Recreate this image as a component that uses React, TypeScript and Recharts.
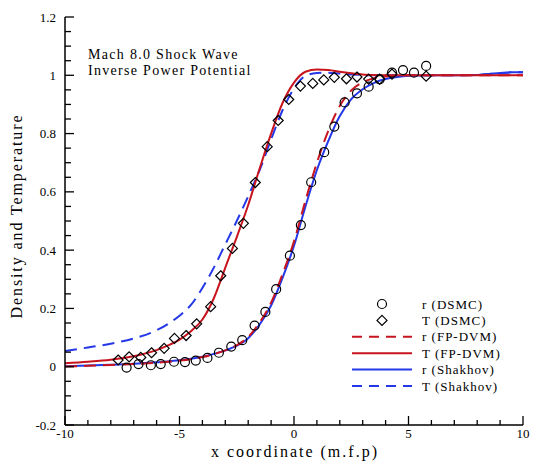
import { ComposedChart, Line, Scatter, XAxis, YAxis } from 'recharts'

// x grid shared by the four model curves
const lineX = [-10, -9, -8, -7, -6, -5.5, -5, -4.5, -4, -3.5, -3, -2.5, -2, -1.5, -1, -0.5, 0, 0.5, 1, 1.5, 2, 2.5, 3, 3.5, 4, 4.5, 5, 6, 7, 8, 8.5, 9, 9.5, 10]
const rFpDvm = [0.001, 0.003, 0.006, 0.009, 0.014, 0.017, 0.021, 0.026, 0.033, 0.043, 0.056, 0.074, 0.102, 0.152, 0.22, 0.318, 0.43, 0.57, 0.7, 0.81, 0.895, 0.948, 0.976, 0.99, 0.996, 0.999, 1, 1, 1, 1, 1, 1, 1, 1]
const tFpDvm = [0.012, 0.017, 0.024, 0.036, 0.057, 0.073, 0.093, 0.122, 0.162, 0.235, 0.34, 0.445, 0.555, 0.68, 0.8, 0.905, 0.975, 1.012, 1.02, 1.018, 1.012, 1.007, 1.003, 1.001, 1, 1, 1, 1, 1, 1, 1, 1, 1, 1]
const rShakhov = [0.002, 0.004, 0.007, 0.01, 0.015, 0.018, 0.022, 0.027, 0.034, 0.044, 0.056, 0.072, 0.098, 0.145, 0.21, 0.305, 0.415, 0.55, 0.675, 0.775, 0.86, 0.918, 0.952, 0.974, 0.987, 0.994, 0.998, 1, 1, 1.001, 1.004, 1.008, 1.01, 1.01]
const tShakhov = [0.054, 0.066, 0.079, 0.097, 0.125, 0.147, 0.175, 0.212, 0.27, 0.34, 0.42, 0.5, 0.585, 0.675, 0.78, 0.88, 0.955, 0.998, 1.008, 1.009, 1.006, 1.003, 1.001, 1, 1, 1, 1, 1, 1, 1.001, 1.004, 1.008, 1.01, 1.01]

// DSMC samples
const rDsmcX = [-7.31, -6.79, -6.25, -5.82, -5.24, -4.76, -4.29, -3.78, -3.28, -2.74, -2.26, -1.72, -1.25, -0.78, -0.18, 0.3, 0.75, 1.32, 1.76, 2.21, 2.75, 3.26, 3.74, 4.28, 4.76, 5.24, 5.77]
const rDsmcY = [-0.003, 0.009, 0.005, 0.009, 0.017, 0.016, 0.021, 0.03, 0.048, 0.069, 0.091, 0.141, 0.188, 0.266, 0.381, 0.486, 0.633, 0.736, 0.824, 0.907, 0.938, 0.961, 0.986, 1.009, 1.018, 1.009, 1.032]
const tDsmcX = [-7.68, -7.2, -6.69, -6.22, -5.67, -5.22, -4.71, -4.25, -3.64, -3.2, -2.69, -2.21, -1.69, -1.17, -0.69, -0.23, 0.28, 0.82, 1.3, 1.76, 2.29, 2.75, 3.26, 3.74, 4.28, 5.77]
const tDsmcY = [0.023, 0.034, 0.032, 0.048, 0.063, 0.097, 0.107, 0.147, 0.206, 0.312, 0.406, 0.492, 0.632, 0.755, 0.845, 0.917, 0.963, 0.972, 0.984, 0.993, 0.988, 0.994, 0.987, 0.987, 1.004, 0.997]

const xTicks = [-10, -9, -8, -7, -6, -5, -4, -3, -2, -1, 0, 1, 2, 3, 4, 5, 6, 7, 8, 9, 10]
const yTicks = [-0.2, -0.15, -0.1, -0.05, 0, 0.05, 0.1, 0.15, 0.2, 0.25, 0.3, 0.35, 0.4, 0.45, 0.5, 0.55, 0.6, 0.65, 0.7, 0.75, 0.8, 0.85, 0.9, 0.95, 1, 1.05, 1.1, 1.15, 1.2]

const legendItems = [
  { label: 'r (DSMC)', marker: 'circle' },
  { label: 'T (DSMC)', marker: 'diamond' },
  { label: 'r (FP-DVM)', color: 'red', dash: '10 7' },
  { label: 'T (FP-DVM)', color: 'red' },
  { label: 'r (Shakhov)', color: 'blue' },
  { label: 'T (Shakhov)', color: 'blue', dash: '10 7' },
]

const RED = '#c8141e'
const BLUE = '#2438e8'
const FONT = '"Liberation Serif", "Times New Roman", serif'

const toPoints = (xs: number[], ys: number[]) => xs.map((x, i) => ({ x, y: ys[i] }))

const circle = (p: any) => <circle cx={p.cx} cy={p.cy} r={4.5} fill="none" stroke="#000" strokeWidth={1.2} />
const diamond = (p: any) => (
  <path d={`M${p.cx},${p.cy - 5}L${p.cx + 5},${p.cy}L${p.cx},${p.cy + 5}L${p.cx - 5},${p.cy}Z`} fill="none" stroke="#000" strokeWidth={1.2} />
)

function XTick({ x, y, payload }: any) {
  const v = payload.value
  const major = v % 5 === 0
  return (
    <g>
      <line x1={x} x2={x} y1={y} y2={y - (major ? 9 : 5)} stroke="#000" strokeWidth={1.3} />
      {major && (
        <text x={x} y={y + 13} textAnchor="middle" fontFamily={FONT} fontSize={13} fill="#000">{v}</text>
      )}
    </g>
  )
}

function YTick({ x, y, payload }: any) {
  const v = payload.value
  const major = Math.abs(v * 5 - Math.round(v * 5)) < 1e-6
  return (
    <g>
      <line x1={x} x2={x + (major ? 9 : 6)} y1={y} y2={y} stroke="#000" strokeWidth={1.3} />
      {major && (
        <text x={x - 9} y={y + 4.5} textAnchor="end" fontFamily={FONT} fontSize={13} fill="#000">
          {Number(v.toFixed(1)).toString()}
        </text>
      )}
    </g>
  )
}

function Overlay() {
  return (
    <svg width={533} height={463} style={{ position: 'absolute', left: 0, top: 0, pointerEvents: 'none' }} fontFamily={FONT}>
      <text x={88} y={59} fontSize={14} letterSpacing={1.3}>Mach 8.0 Shock Wave</text>
      <text x={88} y={75} fontSize={14} letterSpacing={1.3}>Inverse Power Potential</text>
      <text x={295} y={457} fontSize={16} letterSpacing={2} textAnchor="middle">x coordinate (m.f.p)</text>
      <text transform="translate(22,216) rotate(-90)" fontSize={16} letterSpacing={1.9} textAnchor="middle">Density and Temperature</text>
      {legendItems.map((it, i) => {
        const y = 304 + i * 16.4
        const stroke = it.color === 'red' ? RED : BLUE
        return (
          <g key={it.label}>
            {it.marker === 'circle' && circle({ cx: 382, cy: y })}
            {it.marker === 'diamond' && diamond({ cx: 382, cy: y })}
            {!it.marker && <line x1={352} x2={412} y1={y} y2={y} stroke={stroke} strokeWidth={2} strokeDasharray={it.dash} />}
            <text x={422} y={y + 4.5} fontSize={13} letterSpacing={1}>{it.label}</text>
          </g>
        )
      })}
    </svg>
  )
}

export default function App() {
  return (
    <div style={{ position: 'absolute', left: 0, top: 0, width: 533, height: 463, background: '#fff' }}>
      <ComposedChart width={533} height={463} margin={{ top: 17, right: 10, bottom: 8, left: 10 }}>
        <XAxis
          type="number" dataKey="x" domain={[-10, 10]} ticks={xTicks} interval={0} allowDataOverflow
          tickLine={false} tickSize={0} tickMargin={0} height={30}
          axisLine={{ stroke: '#000', strokeWidth: 1.5 }} tick={(p: any) => <XTick {...p} />}
        />
        <YAxis
          type="number" dataKey="y" domain={[-0.2, 1.2]} ticks={yTicks} interval={0} allowDataOverflow
          tickLine={false} tickSize={0} tickMargin={0} width={55}
          axisLine={{ stroke: '#000', strokeWidth: 1.5 }} tick={(p: any) => <YTick {...p} />}
        />
        <Line data={toPoints(lineX, tShakhov)} dataKey="y" type="monotone" stroke={BLUE} strokeWidth={2} strokeDasharray="12 7" dot={false} isAnimationActive={false} />
        <Line data={toPoints(lineX, rShakhov)} dataKey="y" type="monotone" stroke={BLUE} strokeWidth={2} dot={false} isAnimationActive={false} />
        <Line data={toPoints(lineX, rFpDvm)} dataKey="y" type="monotone" stroke={RED} strokeWidth={2} strokeDasharray="12 7" dot={false} isAnimationActive={false} />
        <Line data={toPoints(lineX, tFpDvm)} dataKey="y" type="monotone" stroke={RED} strokeWidth={2} dot={false} isAnimationActive={false} />
        <Scatter data={toPoints(rDsmcX, rDsmcY)} dataKey="y" shape={circle} isAnimationActive={false} />
        <Scatter data={toPoints(tDsmcX, tDsmcY)} dataKey="y" shape={diamond} isAnimationActive={false} />
      </ComposedChart>
      <Overlay />
    </div>
  )
}
